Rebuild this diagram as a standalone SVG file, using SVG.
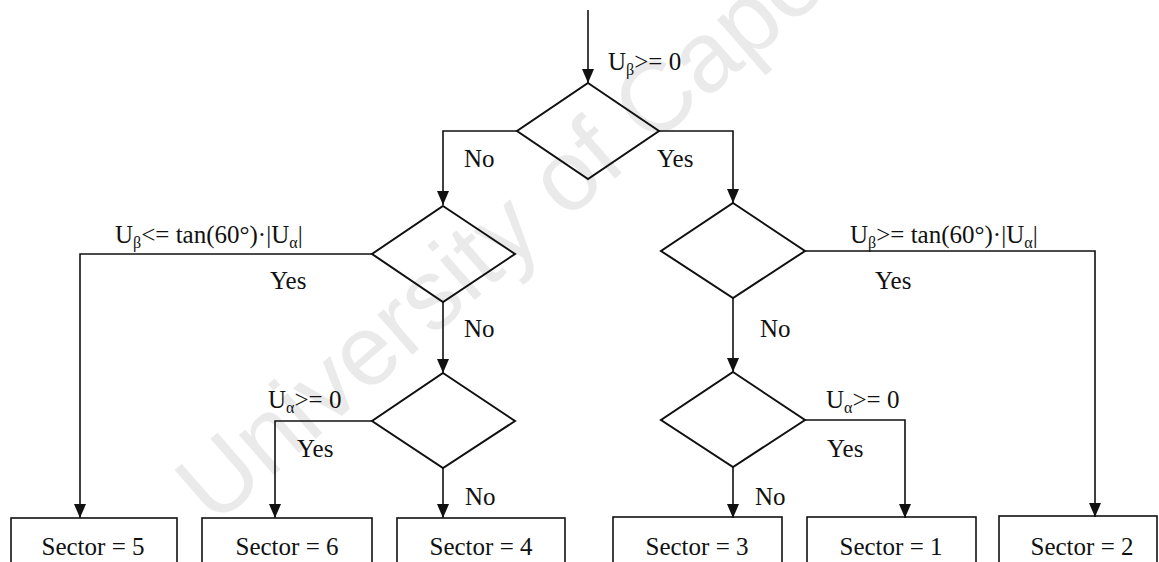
<svg xmlns="http://www.w3.org/2000/svg" width="1159" height="562" viewBox="0 0 1159 562">
<defs>
<marker id="ah" markerUnits="userSpaceOnUse" markerWidth="14" markerHeight="12" refX="14" refY="6" orient="auto">
<path d="M0,0 L14,6 L0,12 z" fill="#111"/>
</marker>
</defs>
<style>
.ln{fill:none;stroke:#111;stroke-width:1.6}
.ar{marker-end:url(#ah)}
.dm{fill:none;stroke:#111;stroke-width:2}
.bx{fill:none;stroke:#111;stroke-width:1.6}
.t{font-family:"Liberation Serif","Times New Roman",serif;font-size:25px;fill:#111}
.s{font-size:16px}
.c{text-anchor:middle}
.wm{font-family:"Liberation Sans",Arial,sans-serif;font-size:100px;fill:#eaeaea}
</style>
<rect width="1159" height="562" fill="#fff"/>
<text class="wm" transform="translate(214,527) rotate(-41)">University of Cape Town</text>

<g id="connectors">
<path class="ln ar" d="M588,10 V83"/>
<path class="ln ar" d="M517,131 H443 V205"/>
<path class="ln ar" d="M659,131 H733 V203"/>
<path class="ln ar" d="M372,254 H80 V518"/>
<path class="ln ar" d="M443,302 V373"/>
<path class="ln ar" d="M372,421 H275 V518"/>
<path class="ln ar" d="M443,468 V518"/>
<path class="ln ar" d="M805,251 H1095 V517"/>
<path class="ln ar" d="M733,298 V372"/>
<path class="ln ar" d="M805,420 H905 V518"/>
<path class="ln ar" d="M733,467 V518"/>
</g>

<g id="labels">
<text class="t" x="608" y="70">U<tspan class="s" dy="5">β</tspan><tspan dy="-5">&gt;= 0</tspan></text>
<text class="t" x="464" y="167">No</text>
<text class="t" x="657" y="167">Yes</text>
<text class="t" x="115" y="243">U<tspan class="s" dy="5">β</tspan><tspan dy="-5">&lt;= tan(60°)·|U</tspan><tspan class="s" dy="5">α</tspan><tspan dy="-5">|</tspan></text>
<text class="t" x="270" y="289">Yes</text>
<text class="t" x="464" y="337">No</text>
<text class="t" x="850" y="243">U<tspan class="s" dy="5">β</tspan><tspan dy="-5">&gt;= tan(60°)·|U</tspan><tspan class="s" dy="5">α</tspan><tspan dy="-5">|</tspan></text>
<text class="t" x="875" y="289">Yes</text>
<text class="t" x="760" y="337">No</text>
<text class="t" x="268" y="408">U<tspan class="s" dy="5">α</tspan><tspan dy="-5">&gt;= 0</tspan></text>
<text class="t" x="297" y="457">Yes</text>
<text class="t" x="465" y="505">No</text>
<text class="t" x="826" y="408">U<tspan class="s" dy="5">α</tspan><tspan dy="-5">&gt;= 0</tspan></text>
<text class="t" x="827" y="457">Yes</text>
<text class="t" x="755" y="505">No</text>
</g>

<g id="d1"><polygon class="dm" points="588,83 659,131 588,179 517,131"/></g>
<g id="d2"><polygon class="dm" points="443,206 515,254 443,302 372,254"/></g>
<g id="d3"><polygon class="dm" points="443,373 515,421 443,468 372,421"/></g>
<g id="d4"><polygon class="dm" points="733,203 805,251 733,298 661,251"/></g>
<g id="d5"><polygon class="dm" points="733,372 805,420 733,467 661,420"/></g>

<g id="s5"><rect class="bx" x="11" y="518" width="166" height="60"/><text class="t c" x="93" y="555">Sector = 5</text></g>
<g id="s6"><rect class="bx" x="202" y="518" width="170" height="60"/><text class="t c" x="287" y="555">Sector = 6</text></g>
<g id="s4"><rect class="bx" x="397" y="518" width="168" height="60"/><text class="t c" x="481" y="555">Sector = 4</text></g>
<g id="s3"><rect class="bx" x="613" y="517" width="169" height="60"/><text class="t c" x="697" y="555">Sector = 3</text></g>
<g id="s1"><rect class="bx" x="807" y="517" width="169" height="60"/><text class="t c" x="891" y="555">Sector = 1</text></g>
<g id="s2"><rect class="bx" x="999" y="516" width="158" height="60"/><text class="t c" x="1082" y="555">Sector = 2</text></g>
</svg>
